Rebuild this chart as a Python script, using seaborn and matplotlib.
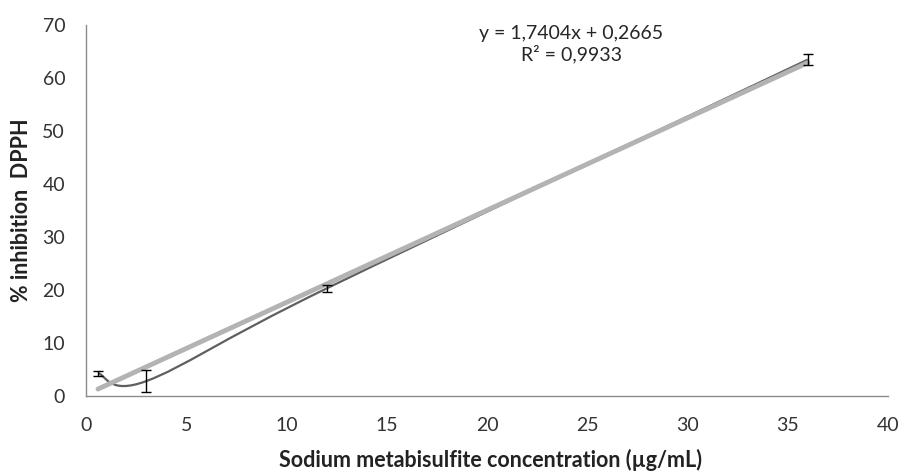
import numpy as np
import matplotlib
matplotlib.use("Agg")
import matplotlib.pyplot as plt
from matplotlib.path import Path
from matplotlib.patches import PathPatch
import seaborn as sns

conc = [0.6, 3.0, 12.0, 36.0]
inhibition = [4.3, 2.8, 20.3, 63.5]
err = [0.5, 2.1, 0.7, 1.0]

# trendline shown on the chart
slope = 1.7404
intercept = 0.2665
r2 = 0.9933

sns.set_theme(style="white")
plt.rcParams['font.family'] = ['Lato', 'DejaVu Sans']

fig = plt.figure(figsize=(9.09, 4.74), dpi=100)
ax = fig.add_axes([0.0946, 0.1646, 0.8824, 0.7824])

# linear trendline over the data range
xt = np.array([min(conc), max(conc)])
sns.lineplot(x=xt, y=slope * xt + intercept, ax=ax, color="#b3b3b3", lw=3.5)

# smoothed line through the points (bezier segments, like a spreadsheet smooth line)
pts = np.column_stack([conc, inhibition])
verts = [pts[0]]
codes = [Path.MOVETO]
n = len(pts)
for i in range(n - 1):
    p0 = pts[max(i - 1, 0)]
    p1 = pts[i]
    p2 = pts[i + 1]
    p3 = pts[min(i + 2, n - 1)]
    c1 = p1 + (p2 - p0) / 6
    c2 = p2 - (p3 - p1) / 6
    verts += [c1, c2, p2]
    codes += [Path.CURVE4] * 3
ax.add_patch(PathPatch(Path(verts, codes), fill=False, edgecolor="#5f5f5f", lw=1.6))

ax.errorbar(conc, inhibition, yerr=err, fmt="none", ecolor="black", elinewidth=1, capsize=3.5, capthick=1)

ax.text(24.2, 68.4, f"y = {slope:.4f}x + {intercept:.4f}".replace(".", ","), ha="center", va="center", fontsize=14)
ax.text(24.2, 64.6, f"R² = {r2:.4f}".replace(".", ","), ha="center", va="center", fontsize=14)

ax.set_xlim(0, 40)
ax.set_ylim(0, 70)
ax.set_xticks(range(0, 41, 5))
ax.set_yticks(range(0, 71, 10))
ax.tick_params(labelsize=14, colors="#333333", length=0)
ax.tick_params(axis="x", pad=15)
ax.tick_params(axis="y", pad=15)
for s in ["top", "right"]:
    ax.spines[s].set_visible(False)
for s in ["left", "bottom"]:
    ax.spines[s].set_color("#8c8c8c")
    ax.spines[s].set_linewidth(1)

ax.set_xlabel("Sodium metabisulfite concentration (µg/mL)", fontsize=15.5, fontweight="bold", color="#222222")
ax.set_ylabel("% inhibition  DPPH", fontsize=15.5, fontweight="bold", color="#222222")
ax.xaxis.label.set_va("center")
ax.yaxis.label.set_va("center")
ax.xaxis.set_label_coords(0.504, -0.172)
ax.yaxis.set_label_coords(-0.08, 0.5)

fig.savefig("out.png", dpi=100)
